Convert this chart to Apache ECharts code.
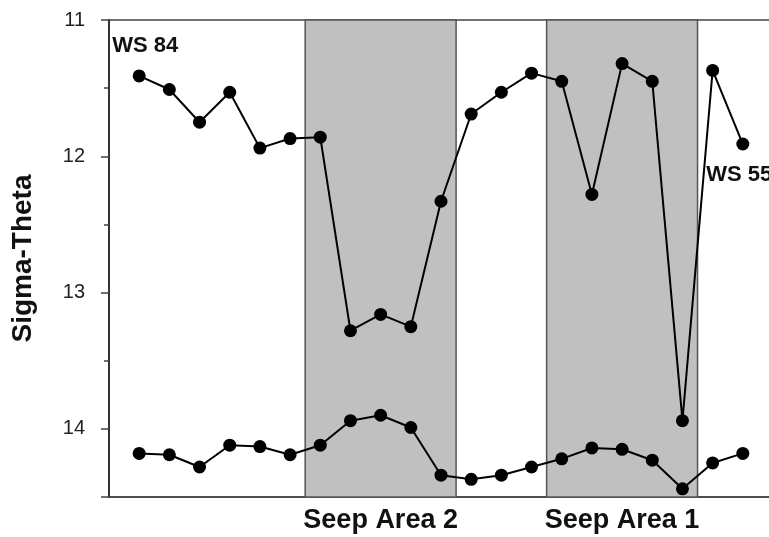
<!DOCTYPE html>
<html>
<head>
<meta charset="utf-8">
<script src="https://cdn.jsdelivr.net/npm/echarts@6/dist/echarts.min.js"></script>
<style>html,body{margin:0;padding:0;background:#fff}#c{width:769px;height:537px}</style>
</head>
<body>
<div id="c"></div>
<script>
// station index along transect
const stations = [0,1,2,3,4,5,6,7,8,9,10,11,12,13,14,15,16,17,18,19,20];
// upper profile (WS 84 -> WS 55)
const upperSigma = [11.41,11.51,11.75,11.53,11.94,11.87,11.86,13.28,13.16,13.25,12.33,11.69,11.53,11.39,11.45,12.28,11.32,11.45,13.94,11.37,11.91];
// lower profile
const lowerSigma = [14.18,14.19,14.28,14.12,14.13,14.19,14.12,13.94,13.90,13.99,14.34,14.37,14.34,14.28,14.22,14.14,14.15,14.23,14.44,14.25,14.18];
// seep areas (station index range)
const seepAreas = [[5.5,10.5],[13.5,18.5]];
const seepLabels = ['Seep Area 2','Seep Area 1'];
const seepCenters = [8,16];
const yTicks = [11,12,13,14];
const startLabel = 'WS 84';
const endLabel = 'WS 55';
const yName = 'Sigma-Theta';

const chart = echarts.init(document.getElementById('c'));
const pts = arr => stations.map((s,i)=>[s, arr[i]]);
const upperData = pts(upperSigma).map((p,i)=>{
  if(i===0) return {value:p, label:{show:true, formatter:startLabel, position:'top', distance:12, offset:[6,0], fontSize:22, fontWeight:'bold', color:'#111', fontFamily:'Liberation Sans'}};
  if(i===stations.length-1) return {value:p, label:{show:true, formatter:endLabel, position:[-30,26], align:'left', verticalAlign:'top', fontSize:22, fontWeight:'bold', color:'#111', fontFamily:'Liberation Sans'}};
  return p;
});
chart.setOption({
  animation:false,
  grid:{left:109, top:20, width:664, height:477, outerBoundsMode:'none', containLabel:false, show:true, borderColor:'#444', borderWidth:1.5, backgroundColor:'transparent'},
  xAxis:{type:'value', min:-1, max:21,
    axisLine:{show:true, onZero:false, lineStyle:{color:'#444', width:1.5}},
    axisTick:{show:false}, splitLine:{show:false},
    axisLabel:{customValues:seepCenters, formatter:v=>{const k=seepCenters.indexOf(v);return k>=0?seepLabels[k]:'';}, fontSize:27, fontWeight:'bold', color:'#111', margin:10, fontFamily:'Liberation Sans'}
  },
  yAxis:{type:'value', inverse:true, min:11, max:14.5, interval:1,
    name:yName, nameLocation:'middle', nameGap:72, nameTextStyle:{fontSize:28, fontWeight:'bold', color:'#111', fontFamily:'Liberation Sans'},
    axisLine:{show:true, onZero:false, lineStyle:{color:'#333', width:2}},
    axisTick:{show:true, length:8, lineStyle:{color:'#444', width:1.5}},
    minorTick:{show:true, splitNumber:2, length:5, lineStyle:{color:'#444', width:1.5}},
    splitLine:{show:false},
    axisLabel:{showMaxLabel:false, formatter:v=>yTicks.indexOf(v)>=0?String(v):'', fontSize:20, color:'#222', margin:24, fontFamily:'Liberation Sans'}
  },
  series:[
    {type:'line', data:upperData, symbol:'circle', symbolSize:13, itemStyle:{color:'#000'}, lineStyle:{color:'#000', width:2}, z:5,
      markArea:{silent:true, itemStyle:{color:'#c0c0c0', borderColor:'#555', borderWidth:1.5}, data:seepAreas.map(a=>[{xAxis:a[0]},{xAxis:a[1]}]), z:1}
    },
    {type:'line', data:pts(lowerSigma), symbol:'circle', symbolSize:13, itemStyle:{color:'#000'}, lineStyle:{color:'#000', width:2}, z:5}
  ]
});
</script>
</body>
</html>
